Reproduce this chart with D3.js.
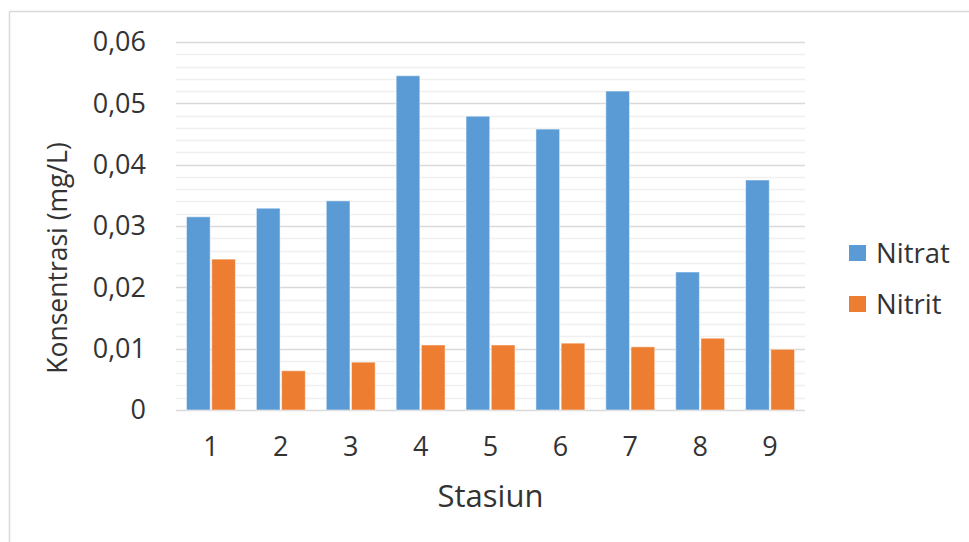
<!DOCTYPE html>
<html>
<head>
<meta charset="utf-8">
<script src="https://cdn.jsdelivr.net/npm/d3@7/dist/d3.min.js"></script>
<style>
  html, body { margin: 0; padding: 0; background: #fff; }
  svg { display: block; }
  text { font-family: "Open Sans", "Noto Sans", sans-serif; fill: #333333; }
</style>
</head>
<body>
<svg id="chart" width="969" height="542"></svg>
<script>
const categories = ["1", "2", "3", "4", "5", "6", "7", "8", "9"];
const seriesNames = ["Nitrat", "Nitrit"];
const nitrat = [0.0315, 0.0329, 0.0341, 0.0545, 0.0479, 0.0458, 0.0520, 0.0225, 0.0375];
const nitrit = [0.0246, 0.0064, 0.0078, 0.0106, 0.0106, 0.0109, 0.0103, 0.0117, 0.0099];
const yTicks = [0, 0.01, 0.02, 0.03, 0.04, 0.05, 0.06];
const yMinorTicks = d3.range(0, 0.0601, 0.002);
const colors = ["#5B9BD5", "#ED7D31"];
const yTitle = "Konsentrasi (mg/L)";
const xTitle = "Stasiun";

const svg = d3.select("#chart");
const plotLeft = 176, plotRight = 805, plotTop = 42, plotBottom = 410;

// chart frame (top and left edges visible)
svg.append("line").attr("x1", 9.5).attr("x2", 969).attr("y1", 11.5).attr("y2", 11.5)
  .attr("stroke", "#d9d9d9").attr("stroke-width", 1.5);
svg.append("line").attr("x1", 9.5).attr("x2", 9.5).attr("y1", 11.5).attr("y2", 542)
  .attr("stroke", "#d9d9d9").attr("stroke-width", 1.5);

const y = d3.scaleLinear().domain([0, 0.06]).range([plotBottom, plotTop]);
const x0 = d3.scaleBand().domain(categories).range([plotLeft, plotRight]).paddingInner(0.3).paddingOuter(0.15);
const x1 = d3.scaleBand().domain(seriesNames).range([0, x0.bandwidth()]).paddingInner(0.06);

// minor gridlines
svg.append("g").selectAll("line").data(yMinorTicks.filter(v => Math.abs(v / 0.01 - Math.round(v / 0.01)) > 1e-6))
  .join("line")
  .attr("x1", plotLeft).attr("x2", plotRight)
  .attr("y1", d => Math.round(y(d)) + 0.5).attr("y2", d => Math.round(y(d)) + 0.5)
  .attr("stroke", "#f0f0f0").attr("stroke-width", 1.5);

// major gridlines
svg.append("g").selectAll("line").data(yTicks)
  .join("line")
  .attr("x1", plotLeft).attr("x2", plotRight)
  .attr("y1", d => Math.round(y(d)) + 0.5).attr("y2", d => Math.round(y(d)) + 0.5)
  .attr("stroke", "#d9d9d9").attr("stroke-width", 1.5);

// y axis labels
const yAxis = d3.axisLeft(y).tickValues(yTicks).tickSize(0).tickPadding(0)
  .tickFormat(d => d === 0 ? "0" : d3.format(".2f")(d).replace(".", ","));
const gy = svg.append("g").attr("transform", `translate(146,0)`).call(yAxis);
gy.select(".domain").remove();
gy.selectAll("text").attr("font-size", 27).style("fill", "#333333")
  .attr("font-family", "'Open Sans', sans-serif").attr("dy", "0.33em");

// bars
const data = categories.map((c, i) => ({ cat: c, vals: [nitrat[i], nitrit[i]] }));
const groups = svg.append("g").selectAll("g").data(data).join("g")
  .attr("transform", d => `translate(${x0(d.cat)},0)`);
groups.selectAll("rect").data(d => d.vals.map((v, j) => ({ name: seriesNames[j], v, j })))
  .join("rect")
  .attr("x", d => x1(d.name))
  .attr("width", x1.bandwidth())
  .attr("y", d => y(d.v))
  .attr("height", d => y(0) - y(d.v))
  .attr("fill", d => colors[d.j])
  .attr("stroke", "#ffffff").attr("stroke-opacity", 0.5).attr("stroke-width", 1);

// x axis labels
const xAxis = d3.axisBottom(x0).tickSize(0).tickPadding(0);
const gx = svg.append("g").attr("transform", `translate(0,${plotBottom + 37})`).call(xAxis);
gx.select(".domain").remove();
gx.selectAll("text").attr("font-size", 27).style("fill", "#333333")
  .attr("font-family", "'Open Sans', sans-serif").attr("dy", "0.33em");

// axis titles
svg.append("text").attr("x", (plotLeft + plotRight) / 2).attr("y", 496).attr("dy", "0.35em")
  .attr("text-anchor", "middle").attr("font-size", 31).text(xTitle);
svg.append("text").attr("transform", `translate(58,${(plotTop + plotBottom) / 2 + 32}) rotate(-90)`)
  .attr("dy", "0.35em").attr("text-anchor", "middle").attr("font-size", 26.5).text(yTitle);

// legend
const legend = svg.append("g").selectAll("g").data(seriesNames).join("g")
  .attr("transform", (d, i) => `translate(849,${253 + i * 51})`);
legend.append("rect").attr("x", 0).attr("y", -8).attr("width", 17).attr("height", 16)
  .attr("fill", (d, i) => colors[i]);
legend.append("text").attr("x", 27).attr("y", 0).attr("dy", "0.35em")
  .attr("font-size", 27.5).text(d => d);
</script>
</body>
</html>
